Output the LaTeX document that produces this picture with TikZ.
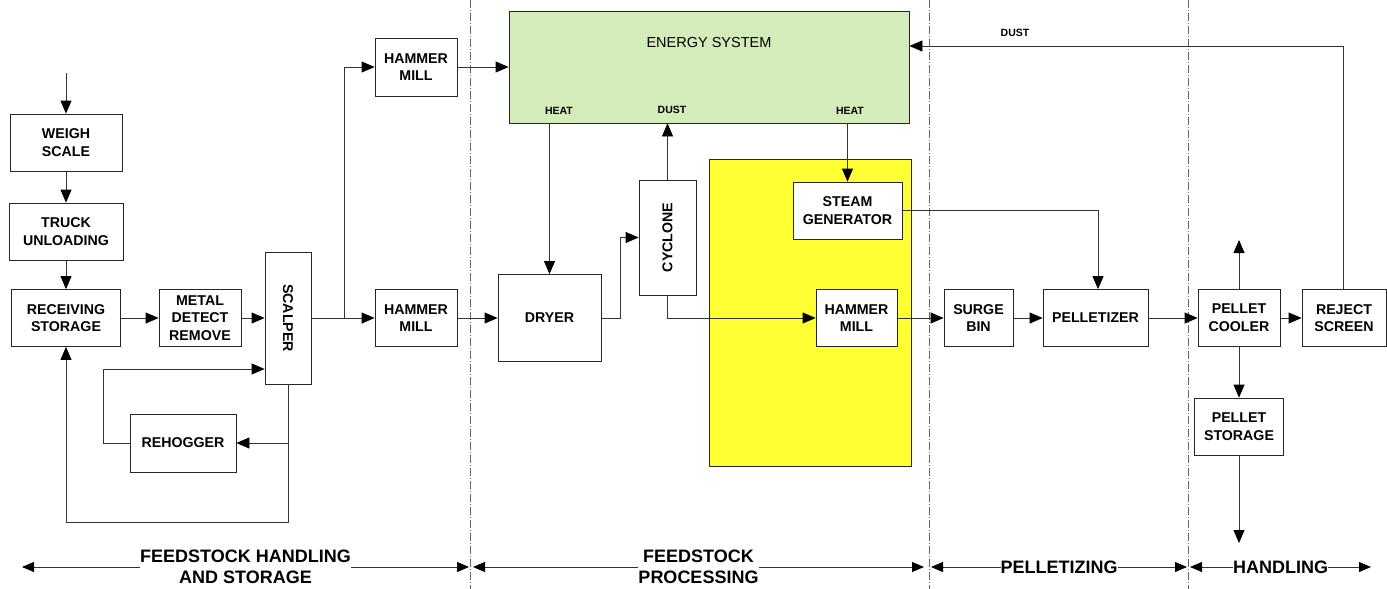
\documentclass[tikz,border=0pt]{standalone}
\usepackage{fontspec}
\setmainfont{Liberation Sans}
\usetikzlibrary{arrows.meta,calc}
\definecolor{energygreen}{HTML}{D4EBBA}
\definecolor{hotyellow}{HTML}{FFFF33}
\begin{document}
\begin{tikzpicture}[x=1pt,y=-1pt,
  box/.style={draw=black!85,line width=0.8pt,fill=white,inner sep=0pt,align=center,
    font=\bfseries\fontsize{14.2}{17.7}\selectfont},
  flow/.style={draw=black!80,line width=0.8pt,-{Triangle[length=13pt,width=11pt,color=black]}},
  span/.style={draw=black!80,line width=0.8pt,
    {Triangle[length=12pt,width=10pt,color=black]}-{Triangle[length=12pt,width=10pt,color=black]}},
  tag/.style={font=\bfseries\fontsize{10.5}{12}\selectfont,inner sep=0pt},
  zone/.style={font=\bfseries\fontsize{18}{21}\selectfont,fill=white,inner sep=0pt,align=center},
  divider/.style={draw=black!60,line width=0.6pt,dash pattern=on 8pt off 2pt on 1pt off 2pt}]

\useasboundingbox (0,0) rectangle (1387,589);

% section dividers
\draw[divider] (470.5,0) -- (470.5,589);
\draw[divider] (929,0) -- (929,589);
\draw[divider] (1188,0) -- (1188,589);

% large background blocks
\node[draw=black!85,line width=0.8pt,fill=energygreen,minimum width=400pt,minimum height=112pt,inner sep=0pt] (energy) at (709,67) {};
\node[font=\fontsize{14.5}{17}\selectfont,inner sep=0pt] (energylbl) at (709,43) {ENERGY SYSTEM};
\node[tag] (heat1) at (559,111) {HEAT};
\node[tag] (dust1) at (672,110) {DUST};
\node[tag] (heat2) at (850,111) {HEAT};
\node[draw=black!85,line width=0.8pt,fill=hotyellow,minimum width=202pt,minimum height=307pt,inner sep=0pt] (yellowzone) at (810,312.5) {};

% process boxes
\node[box,minimum width=112pt,minimum height=57pt] (weigh) at (66,142.5) {WEIGH\\SCALE};
\node[box,minimum width=114pt,minimum height=57pt] (truck) at (66,231.5) {TRUCK\\UNLOADING};
\node[box,minimum width=109pt,minimum height=57pt] (recv) at (66,318) {RECEIVING\\STORAGE};
\node[box,minimum width=82pt,minimum height=57pt] (metal) at (200,318) {METAL\\DETECT\\REMOVE};
\node[box,minimum width=46pt,minimum height=132pt] (scalper) at (288,318) {\rotatebox{-90}{SCALPER}};
\node[box,minimum width=106pt,minimum height=58pt] (rehog) at (183,443) {REHOGGER};
\node[box,minimum width=82pt,minimum height=58pt] (hm1) at (416,67) {HAMMER\\MILL};
\node[box,minimum width=82pt,minimum height=57pt] (hm2) at (416,318) {HAMMER\\MILL};
\node[box,minimum width=103pt,minimum height=87pt] (dryer) at (549.5,318) {DRYER};
\node[box,minimum width=57pt,minimum height=115pt] (cyclone) at (667.5,237.5) {\rotatebox{90}{CYCLONE}};
\node[box,minimum width=109pt,minimum height=57pt] (steam) at (847.5,210.5) {STEAM\\GENERATOR};
\node[box,minimum width=81pt,minimum height=57pt] (hm3) at (856.5,318) {HAMMER\\MILL};
\node[box,minimum width=69pt,minimum height=57pt] (surge) at (978.5,318) {SURGE\\BIN};
\node[box,minimum width=105pt,minimum height=57pt] (pellet) at (1095.5,318) {PELLETIZER};
\node[box,minimum width=82pt,minimum height=57pt] (cooler) at (1239,318) {PELLET\\COOLER};
\node[box,minimum width=84pt,minimum height=57pt] (reject) at (1344,318) {REJECT\\SCREEN};
\node[box,minimum width=89pt,minimum height=57pt] (storage) at (1239,426.5) {PELLET\\STORAGE};

% free ends
\coordinate (feedin) at (66,73);
\coordinate (branch) at (344,318);
\coordinate (rehogtap) at (288,443);
\coordinate (coolerup) at (1239,240);
\coordinate (storeout) at (1239,543);

% connectors: feedstock handling
\draw[flow] (feedin) -- (weigh.north);
\draw[flow] (weigh.south) -- (truck.north);
\draw[flow] (truck.south) -- (recv.north);
\draw[flow] (recv.east) -- (metal.west);
\draw[flow] (metal.east) -- (scalper.west);
\draw[flow] (scalper.east) -- (hm2.west);
\draw[flow] (branch) |- (hm1.west);
\draw[flow] (scalper.south) -- ++(0,138) -| (recv.south);
\draw[flow] (rehogtap) -- (rehog.east);
\draw[flow] (rehog.west) -- ++(-26,0) |- (scalper.west |- 0,369);

% feedstock processing
\draw[flow] (hm1.east) -- (hm1.east -| energy.west);
\draw[flow] (hm2.east) -- (dryer.west);
\draw[flow] (dryer.north |- energy.south) -- (dryer.north);
\draw[flow] (dryer.east) -- ++(19,0) |- (cyclone.west);
\draw[flow] (cyclone.north) -- (cyclone.north |- energy.south);
\draw[flow] (cyclone.south) |- (hm3.west);
\draw[flow] (steam.north |- energy.south) -- (steam.north);

% pelletizing
\draw[flow] (hm3.east) -- (surge.west);
\draw[flow] (surge.east) -- (pellet.west);
\draw[flow] (steam.east) -| ([xshift=2.5pt]pellet.north);
\draw[flow] (pellet.east) -- (cooler.west);

% handling
\draw[flow] (cooler.east) -- (reject.west);
\draw[flow] (cooler.north) -- (coolerup);
\draw[flow] (cooler.south) -- (storage.north);
\draw[flow] (storage.south) -- (storeout);
\draw[flow] ([xshift=-1pt]reject.north) |- ([yshift=21pt]energy.east);
\node[tag] (dust2) at (1015,33) {DUST};

% section spans
\coordinate (s1l) at (22,567);  \coordinate (s1r) at (469,567);
\coordinate (s2l) at (473,567); \coordinate (s2r) at (924,567);
\coordinate (s3l) at (931,567); \coordinate (s3r) at (1187,567);
\coordinate (s4l) at (1190,567); \coordinate (s4r) at (1371,567);
\draw[span] (s1l) -- node[zone] (z1) {FEEDSTOCK HANDLING\\AND STORAGE} (s1r);
\draw[span] (s2l) -- node[zone] (z2) {FEEDSTOCK\\PROCESSING} (s2r);
\draw[span] (s3l) -- node[zone] (z3) {PELLETIZING} (s3r);
\draw[span] (s4l) -- node[zone] (z4) {HANDLING} (s4r);
\end{tikzpicture}
\end{document}
